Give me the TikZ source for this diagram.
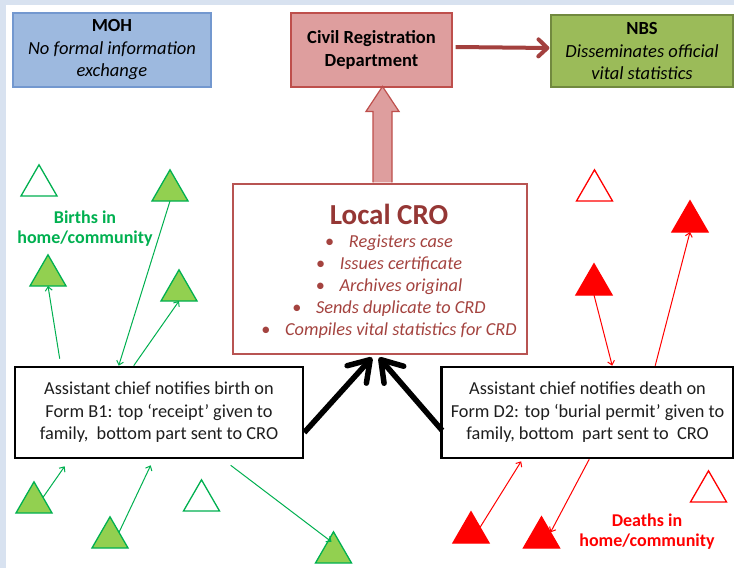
\documentclass[tikz,border=0pt]{standalone}
\usepackage{fontspec}
\setmainfont{Carlito}
\usetikzlibrary{arrows.meta,calc,shapes.geometric}
\definecolor{bgblue}{HTML}{D8E2F0}
\definecolor{mohfill}{HTML}{9DB9DF}
\definecolor{mohdraw}{HTML}{7398CF}
\definecolor{crdfill}{HTML}{DE9E9E}
\definecolor{crddraw}{HTML}{BE4F4C}
\definecolor{nbsfill}{HTML}{9BBB59}
\definecolor{nbsdraw}{HTML}{71893F}
\definecolor{darkred}{HTML}{A3403E}
\definecolor{crotitle}{HTML}{953735}
\definecolor{crotext}{HTML}{A4433F}
\definecolor{crodraw}{HTML}{B85452}
\definecolor{tgreen}{HTML}{00B050}
\definecolor{lgreen}{HTML}{92D050}
\definecolor{tred}{HTML}{FF0000}
\definecolor{boxtext}{HTML}{1E1E1E}
\begin{document}
\begin{tikzpicture}[x=1pt,y=-1pt,
  topbox/.style={draw, line width=1.2pt, minimum height=74pt, inner sep=0pt, align=center,
    font=\fontsize{18.5}{22.5}\selectfont, text=black},
  crobox/.style={draw=crodraw, fill=white, line width=1.1pt, minimum width=294pt, minimum height=170pt, inner sep=0pt, align=center},
  notebox/.style={draw=black, fill=white, line width=2.6pt, minimum width=288pt, minimum height=91pt, inner sep=0pt, align=center,
    font=\fontsize{18.3}{22.5}\selectfont, text=boxtext},
  tri/.style={regular polygon, regular polygon sides=3, minimum size=41.6pt, inner sep=0pt, outer sep=0pt, line width=1.3pt},
  gtri/.style={tri, draw=tgreen, fill=lgreen},
  gotri/.style={tri, draw=tgreen, fill=white},
  rtri/.style={tri, draw=tred, fill=tred},
  rotri/.style={tri, draw=tred, fill=white},
  garrow/.style={draw=tgreen, line width=1pt, -{Straight Barb[length=4pt,width=7pt]}},
  rarrow/.style={draw=tred, line width=1pt, -{Straight Barb[length=4pt,width=7pt]}},
  bigarrow/.style={draw=black, line width=5.5pt, -{Straight Barb[length=20pt,width=26pt,round]}},
  lbl/.style={align=center, font=\fontsize{18}{20}\selectfont\bfseries}
]
\useasboundingbox (0,0) rectangle (734,568);
\fill[bgblue] (0,0) rectangle (734,568);
\fill[white] (6,5) rectangle (734,568);

% top boxes
\node[topbox, draw=mohdraw, fill=mohfill, minimum width=198pt] (moh) at (112,50)
  {\textbf{MOH}\\\textit{No formal information}\\\textit{exchange}};
\node[topbox, draw=crddraw, fill=crdfill, minimum width=161pt] (crd) at (371.5,50)
  {\textbf{Civil Registration}\\\textbf{Department}};
\node[topbox, draw=nbsdraw, fill=nbsfill, minimum width=182pt, minimum height=72pt] (nbs) at (642,51)
  {\textbf{NBS}\\\textit{Disseminates official}\\\textit{vital statistics}};

\draw[darkred, line width=4pt, -{Straight Barb[length=9pt,width=17pt,round]}]
  ($(crd.east)+(3,-3)$) -- ($(nbs.west)+(-1,-3)$);

% local CRO
\node[crobox] (cro) at (380,269) {};
\node[align=center, text=crotext, font=\fontsize{18.3}{22}\selectfont\itshape] (crotxt) at (389,271)
  {{\fontsize{29}{28}\selectfont\upshape\bfseries\color{crotitle}Local CRO}\\[1pt]
   {\upshape\textbullet}\hspace{0.8em}Registers case\\
   {\upshape\textbullet}\hspace{0.8em}Issues certificate\\
   {\upshape\textbullet}\hspace{0.8em}Archives original\\
   {\upshape\textbullet}\hspace{0.8em}Sends duplicate to CRD\\
   {\upshape\textbullet}\hspace{0.8em}Compiles vital statistics for CRD};

% block arrow CRO -> CRD
\coordinate (ba) at ($(cro.north)+(2.5,0)$);
\draw[crddraw, fill=crdfill, line width=1.2pt]
  ($(ba)+(-9.5,-1)$) -- ($(ba)+(-9.5,-72)$) -- ($(ba)+(-16.5,-72)$) -- ($(ba)+(0,-97)$)
  -- ($(ba)+(16.5,-72)$) -- ($(ba)+(9.5,-72)$) -- ($(ba)+(9.5,-1)$);

% notification boxes
\node[notebox] (birth) at (159,412.5)
  {Assistant chief notifies birth on\\Form B1: top `receipt' given to\\family,\ \ bottom part sent to CRO};
\node[notebox, minimum width=292pt] (death) at (587.5,412.5)
  {Assistant chief notifies death on\\Form D2: top `burial permit' given to\\family, bottom\ \ part sent to\ \ CRO};

\draw[bigarrow] ($(birth.east)+(0,20)$) -- ($(cro.south)+(-8,3)$);
\draw[bigarrow] ($(death.west)+(2,18)$) -- ($(cro.south)+(-1,3)$);

% green triangles
\node[gotri] (g0) at (39,185.6) {};
\node[gtri] (g1) at (170,190.6) {};
\node[gtri] (g2) at (48,275.6) {};
\node[gtri] (g3) at (179,290.6) {};
\node[gtri] (g4) at (34,502.6) {};
\node[gtri] (g5) at (110,537.6) {};
\node[gotri] (g6) at (201.5,500.6) {};
\node[gtri] (g7) at (333.5,552.6) {};

\node[lbl, text=tgreen] (blab) at (85,229) {Births in\\home/community};

\draw[garrow] ($(birth.north west)+(46,-7)$) -- (g2.south);
\draw[garrow] (g1.south) -- ($(birth.north west)+(105,0)$);
\draw[garrow] ($(birth.north west)+(120,0)$) -- (g3.south);
\draw[garrow] (g4.side 3) -- ($(birth.south west)+(51,7)$);
\draw[garrow] (g5.side 3) -- ($(birth.south west)+(137,6)$);
\draw[garrow] ($(birth.south west)+(217,6)$) -- ($(g7.north)+(-2,10)$);

% red triangles
\node[rotri] (r0) at (594.5,190.6) {};
\node[rtri] (r1) at (690,221.6) {};
\node[rtri] (r2) at (594,284.6) {};
\node[rtri] (r3) at (471,532.6) {};
\node[rtri] (r4) at (541.5,537.6) {};
\node[rotri] (r5) at (708.5,491.6) {};

\node[lbl, text=tred] (dlab) at (647,532) {Deaths in\\home/community};

\draw[rarrow] (r2.south) -- ($(death.north west)+(172,0)$);
\draw[rarrow] ($(death.north west)+(215,0)$) -- (r1.south);
\draw[rarrow] (r3.side 3) -- ($(death.south west)+(81,2)$);
\draw[rarrow] ($(death.south west)+(149,0)$) -- (r4.side 3);
\end{tikzpicture}
\end{document}
